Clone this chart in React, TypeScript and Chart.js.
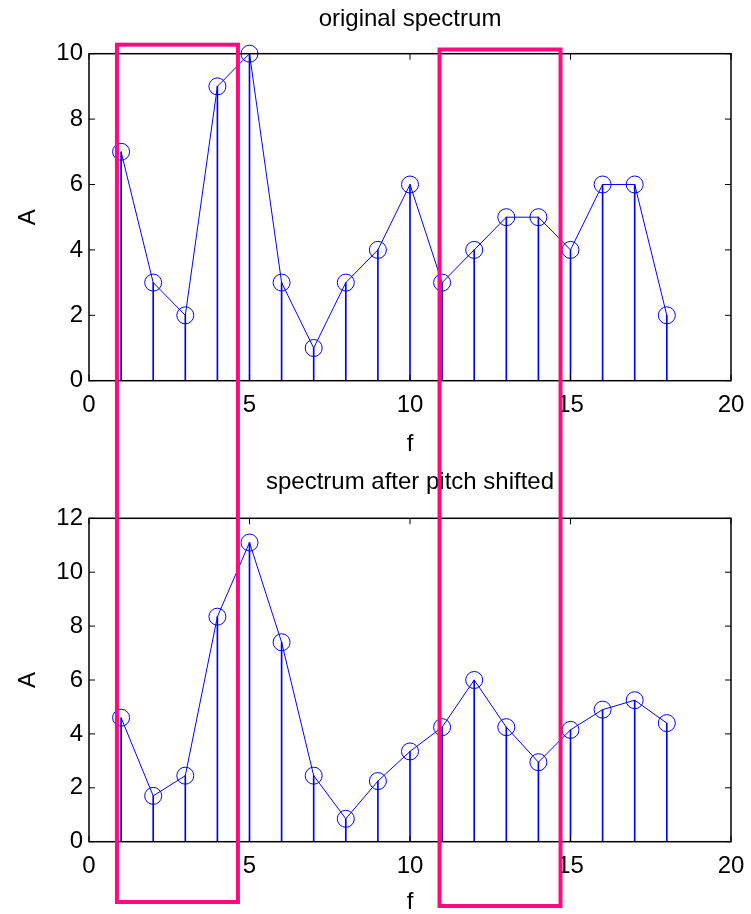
import React, { useEffect, useRef } from 'react';
import { Chart, registerables } from 'chart.js';
Chart.register(...registerables);

// ---- data ----
const freqs = [1, 2, 3, 4, 5, 6, 7, 8, 9, 10, 11, 12, 13, 14, 15, 16, 17, 18];
const originalA = [7, 3, 2, 9, 10, 3, 1, 3, 4, 6, 3, 4, 5, 5, 4, 6, 6, 2];
const shiftedA = [4.6, 1.7, 2.45, 8.35, 11.1, 7.4, 2.45, 0.85, 2.25, 3.35, 4.25, 6.0, 4.25, 2.95, 4.15, 4.9, 5.25, 4.4];
const xTicks = [0, 5, 10, 15, 20];
const yTicksTop = [0, 2, 4, 6, 8, 10];
const yTicksBottom = [0, 2, 4, 6, 8, 10, 12];
const highlightBands = [
  [0.87, 4.64],
  [10.92, 14.69],
];
const titleTop = 'original spectrum';
const titleBottom = 'spectrum after pitch shifted';
const xLabel = 'f';
const yLabel = 'A';

const FONT = "'Liberation Sans', Arial, Helvetica, sans-serif";
const BLUE = '#0000ff';
const PINK = '#ff0a80';

// page-pixel vertical extents of the two highlight boxes [top, bottom]
const bandVertical = [
  [44.7, 902],
  [49.5, 906],
];

function framePlugin() {
  return {
    id: 'frame',
    afterDatasetsDraw(chart: any) {
      const { ctx, chartArea: a, scales } = chart;
      ctx.save();
      ctx.strokeStyle = '#000';
      ctx.lineWidth = 1.5;
      ctx.strokeRect(a.left, a.top, a.right - a.left, a.bottom - a.top);
      const tl = 6;
      ctx.lineWidth = 1;
      ctx.beginPath();
      for (const t of scales.x.ticks) {
        const px = scales.x.getPixelForValue(t.value);
        ctx.moveTo(px, a.bottom);
        ctx.lineTo(px, a.bottom - tl);
        ctx.moveTo(px, a.top);
        ctx.lineTo(px, a.top + tl);
      }
      for (const t of scales.y.ticks) {
        const py = scales.y.getPixelForValue(t.value);
        ctx.moveTo(a.left, py);
        ctx.lineTo(a.left + tl, py);
        ctx.moveTo(a.right, py);
        ctx.lineTo(a.right - tl, py);
      }
      ctx.stroke();
      ctx.restore();
    },
  };
}

function bandPlugin(pageTop: number) {
  return {
    id: 'bands',
    afterDraw(chart: any) {
      const { ctx, scales } = chart;
      ctx.save();
      ctx.strokeStyle = PINK;
      ctx.lineWidth = 4;
      highlightBands.forEach((b, i) => {
        const x1 = scales.x.getPixelForValue(b[0]);
        const x2 = scales.x.getPixelForValue(b[1]);
        const [t, bt] = bandVertical[i];
        ctx.strokeRect(x1, t - pageTop, x2 - x1, bt - t);
      });
      ctx.restore();
    },
  };
}

function makeConfig(
  values: number[],
  yTicks: number[],
  title: string,
  opts: { titlePadTop: number; titlePadBottom: number; xAxisHeight: number; pageTop: number }
) {
  const pts = freqs.map((f, i) => ({ x: f, y: values[i] }));
  return {
    type: 'bar',
    data: {
      datasets: [
        {
          type: 'line',
          data: pts,
          borderColor: BLUE,
          borderWidth: 1,
          tension: 0,
          pointStyle: 'circle',
          pointRadius: 8.5,
          pointBorderWidth: 1,
          pointBorderColor: BLUE,
          pointBackgroundColor: 'rgba(0,0,0,0)',
          clip: false,
          order: 0,
        },
        {
          type: 'bar',
          data: pts,
          backgroundColor: BLUE,
          barThickness: 1,
          borderWidth: 0,
          order: 1,
        },
      ],
    },
    options: {
      animation: false,
      responsive: false,
      maintainAspectRatio: false,
      events: [],
      layout: { padding: { left: 0, right: 20, top: 0, bottom: 0 } },
      plugins: {
        legend: { display: false },
        tooltip: { enabled: false },
        title: {
          display: true,
          text: title,
          color: '#000',
          fullSize: false,
          font: { family: FONT, size: 24, weight: 'normal', lineHeight: 1.2 },
          padding: { top: opts.titlePadTop, bottom: opts.titlePadBottom },
        },
      },
      scales: {
        x: {
          type: 'linear',
          offset: false,
          min: xTicks[0],
          max: xTicks[xTicks.length - 1],
          afterBuildTicks: (s: any) => {
            s.ticks = xTicks.map((v) => ({ value: v }));
          },
          afterFit: (s: any) => {
            s.height = opts.xAxisHeight;
            s.paddingLeft = 0;
            s.paddingRight = 0;
          },
          grid: { display: false, drawTicks: false, offset: false },
          border: { display: false },
          ticks: {
            color: '#000',
            font: { family: FONT, size: 24, lineHeight: 1.2 },
            padding: 10,
            maxRotation: 0,
            autoSkip: false,
          },
          title: {
            display: true,
            text: xLabel,
            color: '#000',
            font: { family: FONT, size: 24, lineHeight: 1 },
            padding: { top: 0, bottom: 0 },
          },
        },
        y: {
          type: 'linear',
          min: yTicks[0],
          max: yTicks[yTicks.length - 1],
          afterBuildTicks: (s: any) => {
            s.ticks = yTicks.map((v) => ({ value: v }));
          },
          afterFit: (s: any) => {
            s.width = 89;
          },
          grid: { display: false, drawTicks: false },
          border: { display: false },
          ticks: {
            color: '#000',
            font: { family: FONT, size: 24, lineHeight: 1.2 },
            padding: 6,
          },
          title: {
            display: true,
            text: yLabel,
            color: '#000',
            font: { family: FONT, size: 24, lineHeight: 1 },
            padding: { top: 16.5, bottom: 0 },
          },
        },
      },
    },
    plugins: [framePlugin(), bandPlugin(opts.pageTop)],
  };
}

export default function App() {
  const topRef = useRef<HTMLCanvasElement>(null);
  const botRef = useRef<HTMLCanvasElement>(null);

  useEffect(() => {
    document.body.style.margin = '0';
    const c1 = new Chart(
      topRef.current as HTMLCanvasElement,
      makeConfig(originalA, yTicksTop, titleTop, {
        titlePadTop: 5,
        titlePadBottom: 19.9,
        xAxisHeight: 75.3,
        pageTop: 0,
      }) as any
    );
    const c2 = new Chart(
      botRef.current as HTMLCanvasElement,
      makeConfig(shiftedA, yTicksBottom, titleBottom, {
        titlePadTop: 12.3,
        titlePadBottom: 21.2,
        xAxisHeight: 72.3,
        pageTop: 456,
      }) as any
    );
    return () => {
      c1.destroy();
      c2.destroy();
    };
  }, []);

  return (
    <div style={{ position: 'relative', width: 751, height: 914, background: '#fff' }}>
      <canvas
        ref={topRef}
        width={751}
        height={456}
        style={{ position: 'absolute', left: 0, top: 0, width: 751, height: 456 }}
      />
      <canvas
        ref={botRef}
        width={751}
        height={458}
        style={{ position: 'absolute', left: 0, top: 456, width: 751, height: 458 }}
      />
    </div>
  );
}
